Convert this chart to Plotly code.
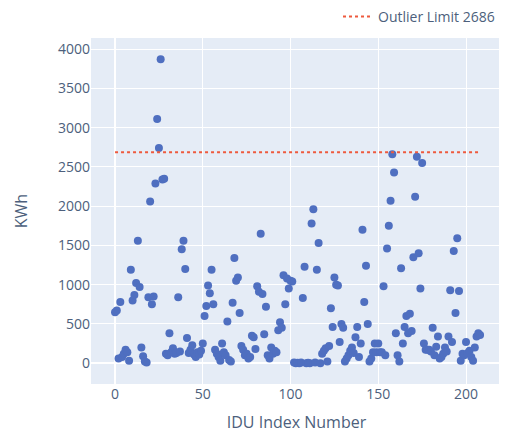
import plotly.graph_objects as go

kwh = [
    650, 670, 60, 780, 80, 120, 170, 140, 30, 1190,
    800, 870, 1020, 1560, 970, 200, 90, 20, 10, 840,
    2060, 750, 850, 2290, 3110, 2740, 3870, 2340, 2350, 120,
    100, 380, 140, 190, 120, 130, 840, 150, 1450, 1560,
    1200, 320, 130, 170, 230, 110, 80, 140, 110, 160,
    250, 600, 730, 990, 890, 1190, 750, 170, 120, 80,
    30, 250, 140, 100, 530, 40, 20, 770, 1340, 1050,
    1090, 640, 220, 170, 100, 120, 60, 80, 350, 330,
    180, 980, 910, 1650, 880, 370, 720, 100, 60, 200,
    120, 160, 140, 420, 520, 450, 1120, 750, 1080, 950,
    1050, 1040, 10, 0, 5, 0, 10, 830, 1230, 0,
    5, 0, 1780, 1960, 10, 1190, 1530, 0, 120, 160,
    190, 20, 220, 700, 460, 1090, 1000, 990, 270, 500,
    450, 20, 60, 100, 160, 200, 130, 330, 460, 80,
    250, 1700, 780, 1240, 500, 20, 60, 140, 250, 140,
    250, 140, 140, 980, 100, 1460, 1750, 2070, 2660, 2430,
    380, 100, 20, 1210, 250, 460, 600, 380, 630, 410,
    1350, 2120, 2630, 1400, 950, 2550, 250, 170, 170, 170,
    150, 450, 100, 210, 340, 60, 80, 120, 200, 150,
    340, 930, 270, 1430, 640, 1590, 920, 30, 120, 100,
    270, 130, 160, 80, 30, 200, 340, 380, 360,
]
idu_index = list(range(len(kwh)))
outlier_limit = 2686
limit_x = [idu_index[0], idu_index[-1]]
limit_y = [outlier_limit, outlier_limit]

font_col = "#4d5f7c"

fig = go.Figure()
fig.add_trace(go.Scatter(
    x=idu_index, y=kwh, mode="markers", showlegend=False,
    marker=dict(color="#4f6fc0", size=8),
))
fig.add_trace(go.Scatter(
    x=limit_x, y=limit_y, mode="lines",
    name=f"Outlier Limit {outlier_limit}",
    line=dict(color="#ee5a3e", width=2, dash="dot"),
))

# plot area in figure pixels (page has an 8px body offset)
L, T, R, B = 83, 30, 494, 376
W, H = 507, 434


def px(x):
    return (x - L) / (R - L)


def py(y):
    return (B - y) / (B - T)


fig.update_layout(
    template="plotly",
    width=W, height=H,
    margin=dict(l=L, r=W - R, t=T, b=H - B, autoexpand=False),
    font=dict(family="Open Sans, Verdana, Arial, sans-serif", size=14, color=font_col),
    plot_bgcolor="#e5ecf6",
    paper_bgcolor="white",
    legend=dict(orientation="h", x=px(492), xanchor="right", y=py(9), yanchor="middle",
                font=dict(size=14, color=font_col), bgcolor="rgba(0,0,0,0)"),
)
fig.update_xaxes(
    title=dict(text="IDU Index Number", font=dict(size=16, color=font_col), standoff=14),
    range=[-13.7, 220.5], tickvals=[0, 50, 100, 150, 200], automargin=False,
    gridcolor="white", zeroline=True, zerolinecolor="white", zerolinewidth=2,
    showline=False,
)
fig.update_yaxes(
    title=dict(text="KWh", font=dict(size=16, color=font_col), standoff=26),
    range=[-265, 4142], tickvals=[0, 500, 1000, 1500, 2000, 2500, 3000, 3500, 4000],
    automargin=False,
    gridcolor="white", zeroline=True, zerolinecolor="white", zerolinewidth=2,
    showline=False,
)

fig.write_html("out.html")
